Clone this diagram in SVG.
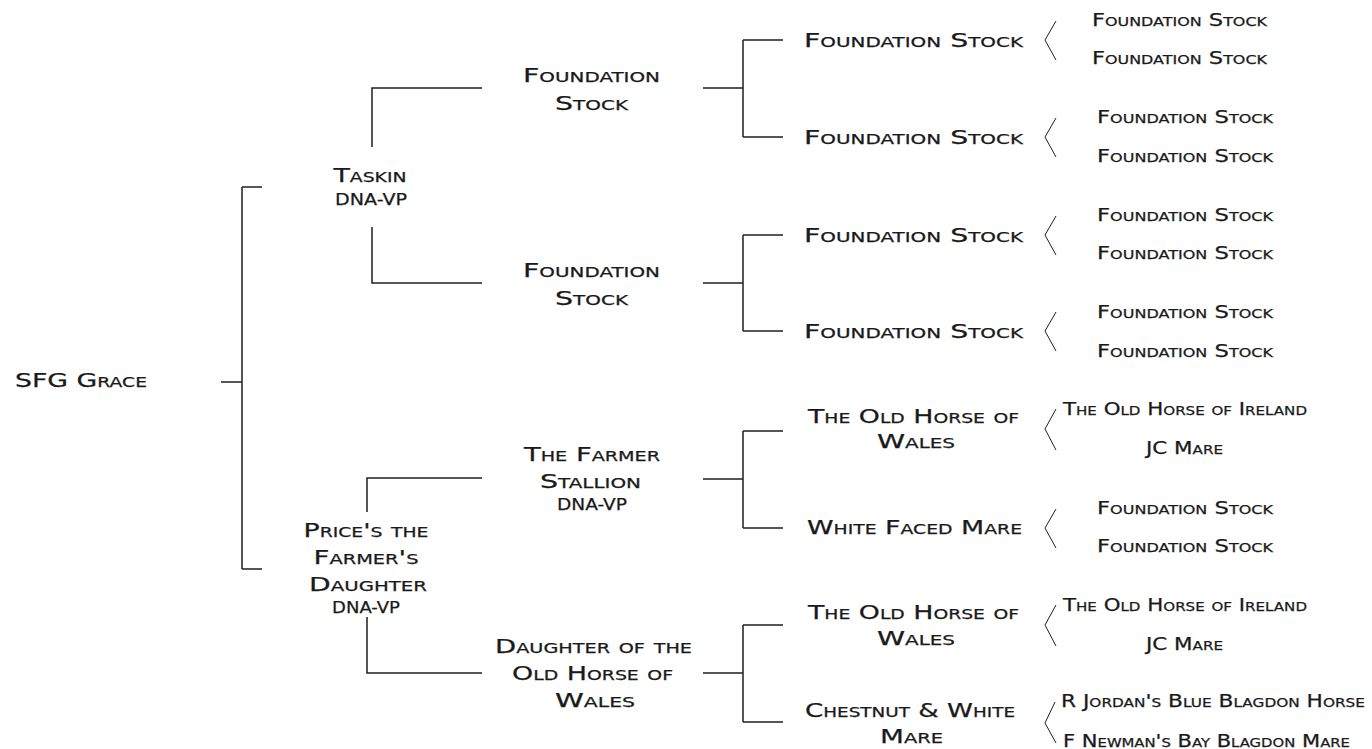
<svg xmlns="http://www.w3.org/2000/svg" width="1372" height="749" viewBox="0 0 1372 749">
<style>
text{font-family:"DejaVu Sans","Liberation Sans",sans-serif;font-variant:small-caps;fill:#1a1a1a;text-anchor:middle;stroke:#1a1a1a;stroke-width:0.25}
.g{font-size:20px}
.s{font-size:17px}
.d{font-size:16.5px}
.ln{stroke:#1f1f1f;stroke-width:1.5;fill:none}
.br{stroke:#1f1f1f;stroke-width:1;fill:none}
</style>
<rect width="1372" height="749" fill="#fff"/>
<g id="connectors">
<path class="ln" d="M221 382H242M242 187V569M242 187H262M242 569H262"/>
<path class="ln" d="M372 147V88H482M372 227V283H482"/>
<path class="ln" d="M367 512V478H482M367 617V673H482"/>
<path class="ln" d="M703 88H743M743 40V137M743 40H783M743 137H783"/>
<path class="ln" d="M703 283H743M743 235V331M743 235H783M743 331H783"/>
<path class="ln" d="M703 479H743M743 431V528M743 431H783M743 528H783"/>
<path class="ln" d="M703 673H743M743 625V722M743 625H783M743 722H783"/>
<path class="br" d="M1056 21L1045 40L1056 60"/>
<path class="br" d="M1056 118L1045 137L1056 157"/>
<path class="br" d="M1056 216L1045 235L1056 255"/>
<path class="br" d="M1056 312L1045 331L1056 351"/>
<path class="br" d="M1056 409L1045 429L1056 450"/>
<path class="br" d="M1056 509L1045 528L1056 548"/>
<path class="br" d="M1056 605L1045 625L1056 646"/>
<path class="br" d="M1055 702L1045 723L1056 743"/>
</g>
<g id="n-sfg-grace"><text class="g" x="81" y="387" textLength="132" lengthAdjust="spacingAndGlyphs">SFG Grace</text></g>
<g id="n-taskin">
<text class="g" x="370" y="182" textLength="73" lengthAdjust="spacingAndGlyphs">Taskin</text>
<text class="d" x="371" y="205" textLength="72" lengthAdjust="spacingAndGlyphs">DNA-VP</text>
</g>
<g id="n-prices">
<text class="g" x="366" y="537" textLength="125" lengthAdjust="spacingAndGlyphs">Price's the</text>
<text class="g" x="366" y="564" textLength="105" lengthAdjust="spacingAndGlyphs">Farmer's</text>
<text class="g" x="368" y="591" textLength="118" lengthAdjust="spacingAndGlyphs">Daughter</text>
<text class="d" x="366" y="613" textLength="68" lengthAdjust="spacingAndGlyphs">DNA-VP</text>
</g>
<g id="n-g2a">
<text class="g" x="591.5" y="82" textLength="137" lengthAdjust="spacingAndGlyphs">Foundation</text>
<text class="g" x="591.5" y="110" textLength="73" lengthAdjust="spacingAndGlyphs">Stock</text>
</g>
<g id="n-g2b">
<text class="g" x="591.5" y="277" textLength="137" lengthAdjust="spacingAndGlyphs">Foundation</text>
<text class="g" x="591.5" y="305" textLength="73" lengthAdjust="spacingAndGlyphs">Stock</text>
</g>
<g id="n-farmer-stallion">
<text class="g" x="592" y="461" textLength="136" lengthAdjust="spacingAndGlyphs">The Farmer</text>
<text class="g" x="590.5" y="488" textLength="101" lengthAdjust="spacingAndGlyphs">Stallion</text>
<text class="d" x="592" y="510" textLength="70" lengthAdjust="spacingAndGlyphs">DNA-VP</text>
</g>
<g id="n-daughter-old-horse">
<text class="g" x="593.5" y="653" textLength="197" lengthAdjust="spacingAndGlyphs">Daughter of the</text>
<text class="g" x="592.5" y="680" textLength="161" lengthAdjust="spacingAndGlyphs">Old Horse of</text>
<text class="g" x="595" y="707" textLength="80" lengthAdjust="spacingAndGlyphs">Wales</text>
</g>
<g id="n-g3-1"><text class="g" x="913.5" y="47" textLength="219" lengthAdjust="spacingAndGlyphs">Foundation Stock</text></g>
<g id="n-g3-2"><text class="g" x="913.5" y="144" textLength="219" lengthAdjust="spacingAndGlyphs">Foundation Stock</text></g>
<g id="n-g3-3"><text class="g" x="913.5" y="242" textLength="219" lengthAdjust="spacingAndGlyphs">Foundation Stock</text></g>
<g id="n-g3-4"><text class="g" x="913.5" y="338" textLength="219" lengthAdjust="spacingAndGlyphs">Foundation Stock</text></g>
<g id="n-g3-5">
<text class="g" x="913.5" y="423" textLength="211" lengthAdjust="spacingAndGlyphs">The Old Horse of</text>
<text class="g" x="916" y="448" textLength="78" lengthAdjust="spacingAndGlyphs">Wales</text>
</g>
<g id="n-g3-6"><text class="g" x="914.5" y="534" textLength="215" lengthAdjust="spacingAndGlyphs">White Faced Mare</text></g>
<g id="n-g3-7">
<text class="g" x="913.5" y="619" textLength="211" lengthAdjust="spacingAndGlyphs">The Old Horse of</text>
<text class="g" x="916" y="645" textLength="78" lengthAdjust="spacingAndGlyphs">Wales</text>
</g>
<g id="n-g3-8">
<text class="g" x="910" y="717" textLength="210" lengthAdjust="spacingAndGlyphs">Chestnut &amp; White</text>
<text class="g" x="911.5" y="743" textLength="63" lengthAdjust="spacingAndGlyphs">Mare</text>
</g>
<g id="n-g4-1">
<text class="s" x="1179.5" y="26" textLength="175" lengthAdjust="spacingAndGlyphs">Foundation Stock</text>
<text class="s" x="1179.5" y="64" textLength="175" lengthAdjust="spacingAndGlyphs">Foundation Stock</text>
</g>
<g id="n-g4-2">
<text class="s" x="1185" y="123" textLength="176" lengthAdjust="spacingAndGlyphs">Foundation Stock</text>
<text class="s" x="1185" y="162" textLength="176" lengthAdjust="spacingAndGlyphs">Foundation Stock</text>
</g>
<g id="n-g4-3">
<text class="s" x="1185" y="221" textLength="176" lengthAdjust="spacingAndGlyphs">Foundation Stock</text>
<text class="s" x="1185" y="259" textLength="176" lengthAdjust="spacingAndGlyphs">Foundation Stock</text>
</g>
<g id="n-g4-4">
<text class="s" x="1185" y="318" textLength="176" lengthAdjust="spacingAndGlyphs">Foundation Stock</text>
<text class="s" x="1185" y="357" textLength="176" lengthAdjust="spacingAndGlyphs">Foundation Stock</text>
</g>
<g id="n-g4-5">
<text class="s" x="1185" y="415" textLength="244" lengthAdjust="spacingAndGlyphs">The Old Horse of Ireland</text>
<text class="s" x="1184.5" y="454" textLength="77" lengthAdjust="spacingAndGlyphs">JC Mare</text>
</g>
<g id="n-g4-6">
<text class="s" x="1185" y="514" textLength="176" lengthAdjust="spacingAndGlyphs">Foundation Stock</text>
<text class="s" x="1185" y="552" textLength="176" lengthAdjust="spacingAndGlyphs">Foundation Stock</text>
</g>
<g id="n-g4-7">
<text class="s" x="1185" y="611" textLength="244" lengthAdjust="spacingAndGlyphs">The Old Horse of Ireland</text>
<text class="s" x="1184.5" y="650" textLength="77" lengthAdjust="spacingAndGlyphs">JC Mare</text>
</g>
<g id="n-g4-8">
<text class="s" x="1213" y="707" textLength="304" lengthAdjust="spacingAndGlyphs">R Jordan's Blue Blagdon Horse</text>
<text class="s" x="1206.5" y="747" textLength="287" lengthAdjust="spacingAndGlyphs">F Newman's Bay Blagdon Mare</text>
</g>
</svg>
